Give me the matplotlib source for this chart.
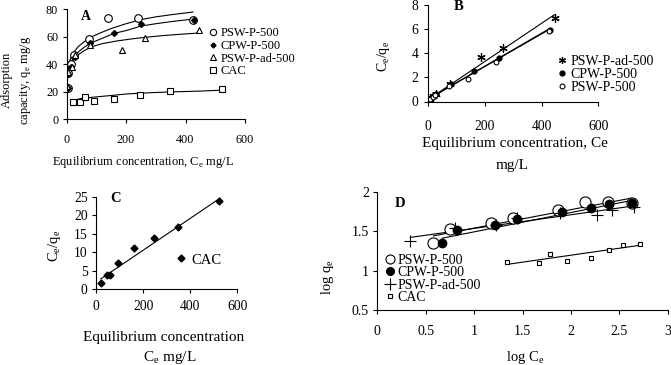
import numpy as np
import matplotlib.pyplot as plt
from matplotlib.lines import Line2D
from matplotlib.ticker import FormatStrFormatter

plt.rcParams['font.family'] = ['Liberation Serif', 'DejaVu Serif']
plt.rcParams['mathtext.fontset'] = 'custom'
plt.rcParams['mathtext.rm'] = 'Liberation Serif'
plt.rcParams['font.size'] = 9

# Data: Ce in mg/L, qe in mg/g
psw_ce = np.array([3.8, 5.6, 15, 25, 74, 141, 240, 425])
psw_qe = np.array([22.5, 33.5, 40.5, 47, 58.5, 74, 74, 72.5])

cpw_ce = np.array([4.7, 6.6, 16.5, 28, 80, 160, 250, 428])
cpw_qe = np.array([22.5, 33, 38, 45, 55.5, 62.5, 69, 72])

pswad_ce = np.array([2.2, 6.3, 17, 27.5, 77.6, 186, 263, 447])
pswad_qe = np.array([24, 34.7, 38, 46.8, 53.7, 50.1, 58.9, 64.6])

cac_ce = np.array([22, 47, 61, 92, 160, 248, 348, 522])
cac_qe = np.array([12.8, 12.5, 16, 13.2, 14.5, 18, 20.8, 22])

# fitted curves in panel A
psw_fit_c = [1.5, 4, 8, 15, 25, 40, 60, 80, 110, 150, 200, 250, 300, 350, 425]
psw_fit_q = [24, 35, 40.5, 45, 49, 53, 56.5, 59.5, 62.5, 66, 69.5, 72.5, 74.5, 76, 78]
cpw_fit_c = [1.5, 4, 8, 15, 25, 40, 60, 80, 110, 160, 200, 250, 300, 350, 430]
cpw_fit_q = [23, 32.5, 37.5, 41.5, 45.5, 49, 52.5, 55.3, 58, 62.5, 64.5, 67.8, 69.5, 71, 73]
pswad_fit_c = [1.5, 4, 8, 15, 25, 40, 60, 85, 120, 170, 220, 264, 320, 380, 440]
pswad_fit_q = [22, 30.5, 35.5, 40, 43.5, 47, 50, 52.8, 55, 57, 58.5, 59.6, 60.8, 61.8, 62.7]
cac_fit_c = [20, 50, 100, 150, 200, 250, 300, 350, 400, 460, 525]
cac_fit_q = [13.5, 15.2, 16.3, 17.3, 18.4, 19, 19.5, 19.9, 20.2, 20.6, 21.2]

# linear fits (end points) in panels B, C, D
b_pswad_line = ([2, 445], [0.2, 7.2])
b_cpw_line = ([5, 428], [0.28, 6.05])
b_psw_line = ([4, 425], [0.25, 5.95])
c_cac_line = ([20, 527], [2.8, 24.6])
d_psw_line = ([0.58, 2.63], [1.44, 1.92])
d_cpw_line = ([0.67, 2.63], [1.41, 1.89])
d_pswad_line = ([0.34, 2.65], [1.42, 1.82])
d_cac_line = ([1.35, 2.71], [1.08, 1.32])

W, H = 671, 365
fig = plt.figure(figsize=(W / 100, H / 100), dpi=100)


def px_axes(l, r, t, b):
    return fig.add_axes([l / W, 1 - b / H, (r - l) / W, (b - t) / H])


def style(ax, xpad, ypad, size):
    for s in ['top', 'right']:
        ax.spines[s].set_visible(False)
    for s in ['left', 'bottom']:
        ax.spines[s].set_linewidth(0.8)
    ax.tick_params(direction='out', length=3, width=0.8, labelsize=size)
    ax.tick_params(axis='x', pad=xpad)
    ax.tick_params(axis='y', pad=ypad)


def ftext(x, y, s, **kw):
    fig.text(x / W, 1 - y / H, s, ha='center', va='center', **kw)


lw = 0.8
k = 'black'
sub_e = r'$_\mathregular{e}$'

# ---------------- A ----------------
axA = px_axes(66.5, 245, 9.3, 119.3)
style(axA, 7.5, 3, 8.7)
axA.plot(psw_fit_c, psw_fit_q, color=k, lw=lw)
axA.plot(cpw_fit_c, cpw_fit_q, color=k, lw=lw)
axA.plot(pswad_fit_c, pswad_fit_q, color=k, lw=lw)
axA.plot(cac_fit_c, cac_fit_q, color=k, lw=lw)
axA.plot(psw_ce, psw_qe, 'o', ms=5.5, mfc='white', mec=k, mew=0.8)
axA.plot(cpw_ce, cpw_qe, 'D', ms=3, color=k)
axA.plot(pswad_ce, pswad_qe, '^', ms=5, mfc='white', mec=k, mew=0.8)
axA.plot(cac_ce, cac_qe, 's', ms=5, mfc='white', mec=k, mew=0.8)
axA.set_xlim(0, 600)
axA.set_ylim(0, 80)
axA.set_xticks([0, 200, 400, 600])
axA.set_yticks([0, 20, 40, 60, 80])
axA.text(0.08, 0.93, 'A', transform=axA.transAxes, fontweight='bold', fontsize=10, va='center')
hA = [Line2D([], [], ls='', marker='o', ms=4.5, mfc='white', mec=k, mew=0.8),
      Line2D([], [], ls='', marker='D', ms=2.5, color=k),
      Line2D([], [], ls='', marker='^', ms=4.5, mfc='white', mec=k, mew=0.8),
      Line2D([], [], ls='', marker='s', ms=4.5, mfc='white', mec=k, mew=0.8)]
fig.legend(hA, ['PSW-P-500', 'CPW-P-500', 'PSW-P-ad-500', 'CAC'], loc='upper left',
           bbox_to_anchor=(209 / W, 1 - 27.5 / H), frameon=False, handlelength=0.6,
           handletextpad=0.3, labelspacing=0.05, borderpad=0, borderaxespad=0, fontsize=9)
ftext(17, 80, 'Adsorption\ncapacity, q' + sub_e + ' mg/g', rotation=90, multialignment='center',
      linespacing=1.5)
ftext(143, 162, 'Equilibrium concentration, C' + sub_e + ' mg/L')

# ---------------- B ----------------
axB = px_axes(428.3, 598.4, 5, 101.5)
style(axB, 10, 4, 9.8)
axB.plot(*b_pswad_line, color=k, lw=lw)
axB.plot(*b_cpw_line, color=k, lw=lw)
axB.plot(*b_psw_line, color=k, lw=lw)
axB.plot(pswad_ce, pswad_ce / pswad_qe, ls='', marker=(6, 2, 0), ms=6, color=k, mew=0.9)
axB.plot(cpw_ce, cpw_ce / cpw_qe, 'o', ms=3.5, color=k)
axB.plot(psw_ce, psw_ce / psw_qe, 'o', ms=3.5, mfc='white', mec=k, mew=0.8)
axB.set_xlim(0, 600)
axB.set_ylim(0, 8)
axB.set_xticks([0, 200, 400, 600])
axB.set_yticks([0, 2, 4, 6, 8])
axB.text(0.15, 0.98, 'B', transform=axB.transAxes, fontweight='bold', fontsize=10.5, va='center')
hB = [Line2D([], [], ls='', marker=(6, 2, 0), ms=5, color=k, mew=0.9),
      Line2D([], [], ls='', marker='o', ms=3.5, color=k),
      Line2D([], [], ls='', marker='o', ms=3.5, mfc='white', mec=k, mew=0.8)]
fig.legend(hB, ['PSW-P-ad-500', 'CPW-P-500', 'PSW-P-500'], loc='upper left',
           bbox_to_anchor=(558 / W, 1 - 55 / H), frameon=False, handlelength=0.6,
           handletextpad=0.3, labelspacing=0.0, borderpad=0, borderaxespad=0, fontsize=10)
ftext(383, 56, 'C' + sub_e + '/q' + sub_e, rotation=90, fontsize=10)
ftext(515, 143, 'Equilibrium concentration, Ce', fontsize=11)
ftext(512, 166, 'mg/L', fontsize=11)

# ---------------- C ----------------
axC = px_axes(96, 237.3, 196.7, 289.3)
style(axC, 5, 3, 9.8)
axC.plot(*c_cac_line, color=k, lw=lw)
axC.plot(cac_ce, cac_ce / cac_qe, 'D', ms=3.5, color=k)
axC.set_xlim(0, 600)
axC.set_ylim(0, 25)
axC.set_xticks([0, 200, 400, 600])
axC.set_yticks([0, 5, 10, 15, 20, 25])
axC.text(0.1, 0.98, 'C', transform=axC.transAxes, fontweight='bold', fontsize=10.5, va='center')
hC = [Line2D([], [], ls='', marker='D', ms=3.5, color=k)]
fig.legend(hC, ['CAC'], loc='center left', bbox_to_anchor=(177 / W, 1 - 260 / H),
           frameon=False, handlelength=0.6, handletextpad=0.4, borderpad=0,
           borderaxespad=0, fontsize=10.5)
ftext(55, 246, 'C' + sub_e + '/q' + sub_e, rotation=90, fontsize=10.5)
ftext(164, 337, 'Equilibrium concentration', fontsize=11)
ftext(170, 358, 'C' + sub_e + ' mg/L', fontsize=11)

# ---------------- D ----------------
axD = px_axes(377.3, 667.7, 191.7, 310)
style(axD, 8, 3, 10)
axD.plot(*d_psw_line, color=k, lw=lw)
axD.plot(*d_cpw_line, color=k, lw=lw)
axD.plot(*d_pswad_line, color=k, lw=lw)
axD.plot(*d_cac_line, color=k, lw=lw)
axD.plot(np.log10(psw_ce), np.log10(psw_qe), 'o', ms=8, mfc='white', mec=k, mew=0.8)
axD.plot(np.log10(cpw_ce), np.log10(cpw_qe), 'o', ms=6, color=k)
axD.plot(np.log10(pswad_ce), np.log10(pswad_qe), '+', ms=9, color=k, mew=0.8)
axD.plot(np.log10(cac_ce), np.log10(cac_qe), 's', ms=3.5, mfc='white', mec=k, mew=0.8)
axD.set_xlim(0, 3)
axD.set_ylim(0.5, 2)
axD.set_xticks([0, 0.5, 1, 1.5, 2, 2.5, 3])
axD.set_yticks([0.5, 1, 1.5, 2])
axD.xaxis.set_major_formatter(FormatStrFormatter('%g'))
axD.yaxis.set_major_formatter(FormatStrFormatter('%g'))
axD.text(0.06, 0.9, 'D', transform=axD.transAxes, fontweight='bold', fontsize=10.5, va='center')
hD = [Line2D([], [], ls='', marker='o', ms=6.5, mfc='white', mec=k, mew=0.8),
      Line2D([], [], ls='', marker='o', ms=5.5, color=k),
      Line2D([], [], ls='', marker='+', ms=9, color=k, mew=0.8),
      Line2D([], [], ls='', marker='s', ms=3.5, mfc='white', mec=k, mew=0.8)]
fig.legend(hD, ['PSW-P-500', 'CPW-P-500', 'PSW-P-ad-500', 'CAC'], loc='upper left',
           bbox_to_anchor=(385 / W, 1 - 254 / H), frameon=False, handlelength=0.7,
           handletextpad=0.2, labelspacing=-0.05, borderpad=0, borderaxespad=0, fontsize=10)
ftext(327, 277, 'log q' + sub_e, rotation=90, fontsize=10.5)
ftext(525, 358, 'log C' + sub_e, fontsize=10.5)

fig.savefig('out.png', dpi=100)
